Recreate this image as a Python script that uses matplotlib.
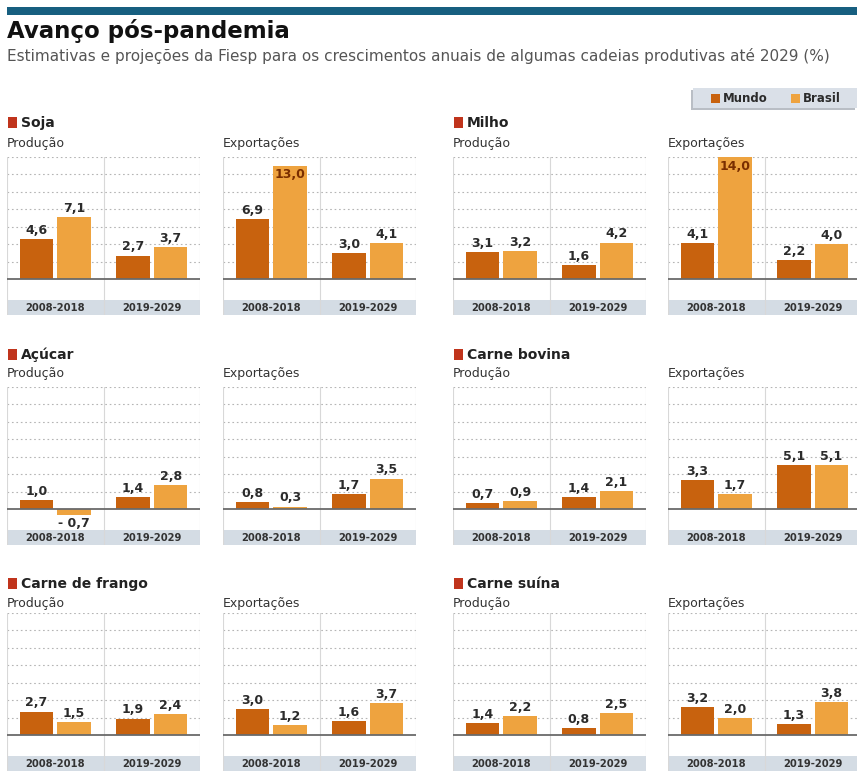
import matplotlib
matplotlib.use('Agg')

import numpy as np
import matplotlib.pyplot as plt
from matplotlib.patches import Rectangle

# dados (%)
produtos = ['Soja', 'Milho', 'Açúcar', 'Carne bovina', 'Carne de frango', 'Carne suína']
periodos = ['2008-2018', '2019-2029']
series = ['Mundo', 'Brasil']
producao_mundo = [[4.6, 2.7], [3.1, 1.6], [1.0, 1.4], [0.7, 1.4], [2.7, 1.9], [1.4, 0.8]]
producao_brasil = [[7.1, 3.7], [3.2, 4.2], [-0.7, 2.8], [0.9, 2.1], [1.5, 2.4], [2.2, 2.5]]
export_mundo = [[6.9, 3.0], [4.1, 2.2], [0.8, 1.7], [3.3, 5.1], [3.0, 1.6], [3.2, 1.3]]
export_brasil = [[13.0, 4.1], [14.0, 4.0], [0.3, 3.5], [1.7, 5.1], [1.2, 3.7], [2.0, 3.8]]

c_mundo = '#c8620e'
c_brasil = '#eea33f'
c_red = '#c0341c'
c_band = '#d4dce4'
c_text = '#2b2b2b'

W, H = 857, 775
fig = plt.figure(figsize=(W / 100, H / 100), dpi=100)

# overlay in pixel coords
bg = fig.add_axes([0, 0, 1, 1])
bg.set_xlim(0, W)
bg.set_ylim(H, 0)
bg.axis('off')

bg.add_patch(Rectangle((7, 7), W - 7, 8, color='#175f80', lw=0))
bg.text(7, 31, 'Avanço pós-pandemia', fontsize=16.5, fontweight='heavy',
        color='#111111', va='center', ha='left')
bg.text(7, 56, 'Estimativas e projeções da Fiesp para os crescimentos anuais de '
        'algumas cadeias produtivas até 2029 (%)', fontsize=11, color='#555555',
        va='center', ha='left')

# legenda
bg.add_patch(Rectangle((691, 90), 164, 20, color='#b9bec5', lw=0))
bg.add_patch(Rectangle((693, 88), 164, 20, color='#dae0e8', lw=0))
bg.add_patch(Rectangle((711, 94), 9, 9, color=c_mundo, lw=0))
bg.text(723, 98.5, series[0], fontsize=8.5, fontweight='bold', color=c_text, va='center')
bg.add_patch(Rectangle((791, 94), 9, 9, color=c_brasil, lw=0))
bg.text(803, 98.5, series[1], fontsize=8.5, fontweight='bold', color=c_text, va='center')

col_left = [[7, 223], [453, 668]]
pw = 193
row_top = [157, 387, 613]
title_y = [123, 355, 584]
sub_y = [144, 374, 604]
ymin, ymax = -4.1, 14.0
ph = (ymax - ymin) * 8.73

bw = 0.35
off = 0.195

def painel(x0, y0, mundo, brasil):
    ax = fig.add_axes([x0 / W, 1 - (y0 + ph) / H, pw / W, ph / H])
    ax.set_xlim(0, 2)
    ax.set_ylim(ymin, ymax)
    ax.axis('off')
    ax.add_patch(Rectangle((0, ymin), 2, 1.7, color=c_band, lw=0, zorder=0))
    for g in range(2, 15, 2):
        ax.plot([0, 2], [g, g], color='#b5b5b5', lw=0.8, ls=(0, (1.5, 2.5)), zorder=1)
    for xv in [0.003, 1, 1.997]:
        ax.plot([xv, xv], [ymin, ymax], color='#d8d8d8', lw=0.8, zorder=1)
    ax.axhline(0, color='#6a6a6a', lw=1.3, zorder=3)
    xs = np.arange(2) + 0.5
    ax.bar(xs - off, mundo, bw, color=c_mundo, zorder=2)
    ax.bar(xs + off, brasil, bw, color=c_brasil, zorder=2)
    for xi, vals in [(xs - off, mundo), (xs + off, brasil)]:
        for x, v in zip(xi, vals):
            s = '{:.1f}'.format(abs(v)).replace('.', ',')
            if v < 0:
                ax.text(x, v - 0.2, '- ' + s, ha='center', va='top', fontsize=9,
                        fontweight='bold', color=c_text, zorder=4)
            elif v > 12:
                ax.text(x, v - 0.3, s, ha='center', va='top', fontsize=9,
                        fontweight='bold', color='#7a2e00', zorder=4)
            else:
                ax.text(x, v + 0.25, s, ha='center', va='bottom', fontsize=9,
                        fontweight='bold', color=c_text, zorder=4)
    for x, p in zip(xs, periodos):
        ax.text(x, ymin + 0.85, p, ha='center', va='center', fontsize=7.2,
                fontweight='bold', color='#333333', zorder=4)
    return ax

for i, nome in enumerate(produtos):
    r, c = i // 2, i % 2
    xl = col_left[c]
    bg.add_patch(Rectangle((xl[0] + 1, title_y[r] - 6), 9, 11, color=c_red, lw=0))
    bg.text(xl[0] + 14, title_y[r], nome, fontsize=10, fontweight='bold',
            color='#222222', va='center')
    bg.text(xl[0], sub_y[r], 'Produção', fontsize=9, color='#333333', va='center')
    bg.text(xl[1], sub_y[r], 'Exportações', fontsize=9, color='#333333', va='center')
    mp = [producao_mundo[i][k] for k in range(2)]
    bp = [producao_brasil[i][k] for k in range(2)]
    me = [export_mundo[i][k] for k in range(2)]
    be = [export_brasil[i][k] for k in range(2)]
    painel(xl[0], row_top[r], mp, bp)
    painel(xl[1], row_top[r], me, be)

fig.savefig('out.png', dpi=100)
